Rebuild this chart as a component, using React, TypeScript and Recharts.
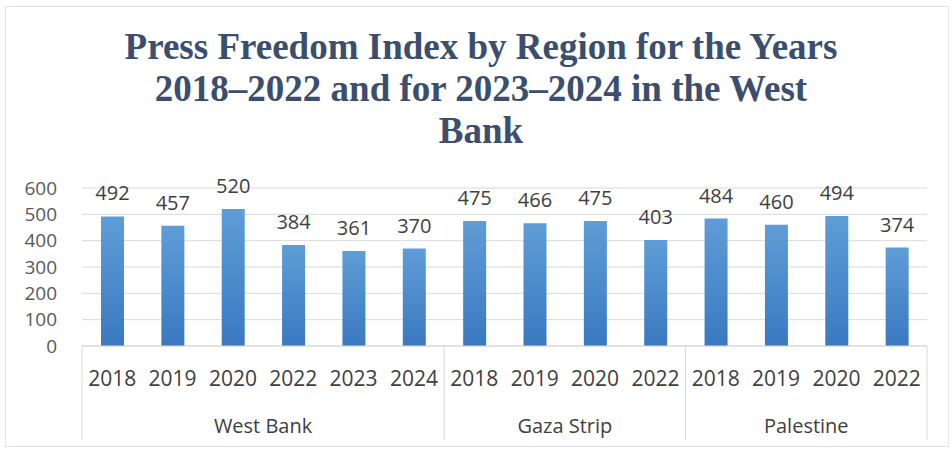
import { BarChart, Bar, XAxis, YAxis, CartesianGrid, LabelList } from "recharts";

const years = [
  "2018", "2019", "2020", "2022", "2023", "2024",
  "2018", "2019", "2020", "2022",
  "2018", "2019", "2020", "2022",
];

const regions = [
  "West Bank", "West Bank", "West Bank", "West Bank", "West Bank", "West Bank",
  "Gaza Strip", "Gaza Strip", "Gaza Strip", "Gaza Strip",
  "Palestine", "Palestine", "Palestine", "Palestine",
];

const values = [492, 457, 520, 384, 361, 370, 475, 466, 475, 403, 484, 460, 494, 374];

const yTicks = [0, 100, 200, 300, 400, 500, 600];

const data = years.map((year, i) => ({
  id: `${regions[i]}-${year}`,
  year,
  region: regions[i],
  value: values[i],
}));

const W = 952;
const H = 449;
const LEFT = 82;
const RIGHT = 25;
const PLOT_W = W - LEFT - RIGHT;
const FONT = "'Open Sans', sans-serif";

const YearTick = (props: any) => {
  const { x, y, payload } = props;
  const i = payload.index;
  const row = data[i];
  const band = PLOT_W / data.length;
  const isStart = i === 0 || data[i - 1].region !== row.region;
  const isLast = i === data.length - 1;
  const size = regions.filter((r) => r === row.region).length;
  const left = x - band / 2;

  return (
    <g>
      <text
        x={x}
        y={y + 32}
        textAnchor="middle"
        dominantBaseline="central"
        fill="#404040"
        fontSize={21}
        fontFamily={FONT}
      >
        {row.year}
      </text>
      {isStart && (
        <>
          <line x1={left} x2={left} y1={y} y2={y + 94} stroke="#d9d9d9" />
          <text
            x={left + (size * band) / 2}
            y={y + 79}
            textAnchor="middle"
            dominantBaseline="central"
            fill="#404040"
            fontSize={20}
            fontFamily={FONT}
          >
            {row.region}
          </text>
        </>
      )}
      {isLast && (
        <line x1={x + band / 2} x2={x + band / 2} y1={y} y2={y + 94} stroke="#d9d9d9" />
      )}
    </g>
  );
};

const App = () => {
  return (
    <div
      style={{
        position: "absolute",
        left: 0,
        top: 0,
        width: W,
        height: H,
        background: "#fff",
        fontFamily: FONT,
      }}
    >
      <div
        style={{
          position: "absolute",
          left: 5,
          top: 6,
          width: 944,
          height: 441,
          border: "1px solid #e0e4ea",
          boxSizing: "border-box",
        }}
      />
      <div
        style={{
          position: "absolute",
          left: 81,
          top: 26,
          width: 800,
          textAlign: "center",
          fontFamily: "'Liberation Serif', 'Times New Roman', serif",
          fontWeight: "bold",
          fontSize: 37,
          lineHeight: "42px",
          color: "#3b4e6e",
          whiteSpace: "nowrap",
        }}
      >
        Press Freedom Index by Region for the Years
        <br />
        2018–2022 and for 2023–2024 in the West
        <br />
        Bank
      </div>
      <div style={{ position: "absolute", left: 0, top: 0 }}>
        <BarChart
          width={W}
          height={H}
          data={data}
          margin={{ top: 188, right: RIGHT, left: 0, bottom: 8 }}
        >
          <defs>
            <linearGradient id="barFill" x1="0" y1="0" x2="0" y2="1">
              <stop offset="0%" stopColor="#5f9dd7" />
              <stop offset="100%" stopColor="#3a79c0" />
            </linearGradient>
          </defs>
          <CartesianGrid vertical={false} stroke="#d9d9d9" />
          <XAxis
            dataKey="id"
            interval={0}
            height={95}
            tickSize={0}
            tickMargin={0}
            tickLine={false}
            axisLine={{ stroke: "#d9d9d9" }}
            tick={<YearTick />}
          />
          <YAxis
            width={LEFT}
            domain={[0, 600]}
            ticks={yTicks}
            interval={0}
            axisLine={false}
            tickLine={false}
            tickSize={0}
            tickMargin={25}
            tick={{ fill: "#595959", fontSize: 19, fontFamily: FONT }}
          />
          <Bar dataKey="value" fill="url(#barFill)" barSize={23} isAnimationActive={false}>
            <LabelList
              dataKey="value"
              position="top"
              offset={16}
              fill="#404040"
              fontSize={20}
              fontFamily={FONT}
            />
          </Bar>
        </BarChart>
      </div>
    </div>
  );
};

export default App;
